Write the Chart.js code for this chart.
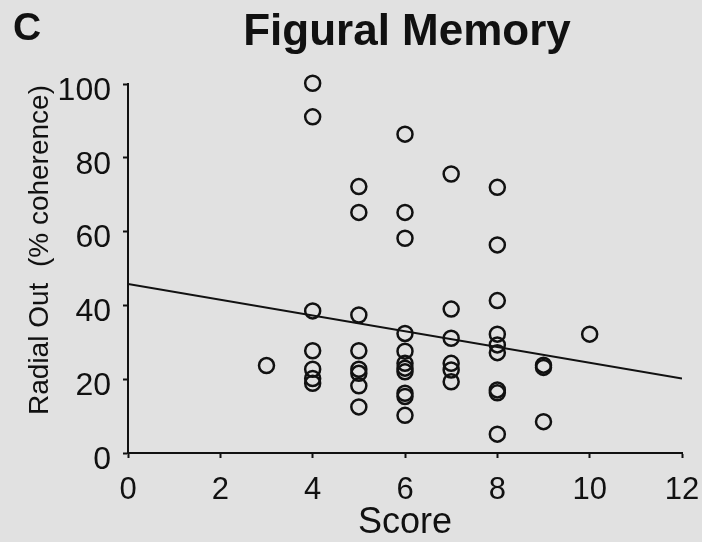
<!DOCTYPE html>
<html>
<head>
<meta charset="utf-8">
<script src="https://cdn.jsdelivr.net/npm/chart.js@4/dist/chart.umd.min.js"></script>
<style>
  html, body { margin: 0; padding: 0; background: #e1e1e1; }
  canvas { display: block; }
</style>
</head>
<body>
<canvas id="grafico" width="702" height="542"></canvas>
<script>
// datos
const puntajes = [3,
  4, 4, 4, 4, 4, 4, 4,
  5, 5, 5, 5, 5, 5, 5, 5,
  6, 6, 6, 6, 6, 6, 6, 6, 6, 6, 6,
  7, 7, 7, 7, 7, 7,
  8, 8, 8, 8, 8, 8, 8, 8, 8,
  9, 9, 9,
  10];
const coherencia = [23.7,
  100.2, 91.1, 38.5, 27.7, 22.7, 20.2, 18.9,
  72.2, 65.2, 37.4, 27.7, 22.7, 21.6, 18.2, 12.5,
  86.4, 65.2, 58.2, 32.4, 27.6, 24.3, 23.0, 22.0, 16.2, 15.3, 10.2,
  75.6, 39.0, 31.1, 24.3, 22.5, 19.3,
  72.0, 56.4, 41.3, 32.2, 29.3, 27.2, 17.1, 16.3, 5.1,
  23.8, 23.2, 8.5,
  32.2];
const rectaX = [0, 12];
const rectaY = [45.8, 20.2];
const ticksX = [0, 2, 4, 6, 8, 10, 12];
const ticksY = [0, 20, 40, 60, 80, 100];

const tinta = '#111111';
const fuente = "'Liberation Sans', Arial, sans-serif";

const textos = {
  id: 'textos',
  afterDraw(chart) {
    const c = chart.ctx;
    c.save();
    c.fillStyle = tinta;
    c.textBaseline = 'alphabetic';
    c.font = 'bold 39px ' + fuente;
    c.textAlign = 'left';
    c.fillText('C', 13, 40);
    c.font = 'bold 44px ' + fuente;
    c.textAlign = 'center';
    c.fillText('Figural Memory', 407, 45);
    c.font = '28px ' + fuente;
    c.translate(48, 250);
    c.rotate(-Math.PI / 2);
    c.fillText('Radial Out  (% coherence)', 0, 0);
    c.restore();
  }
};

const ctx = document.getElementById('grafico').getContext('2d');
const grafico = new Chart(ctx, {
  type: 'scatter',
  data: {
    datasets: [{
      label: 'datos',
      data: puntajes.map((x, i) => ({ x: x, y: coherencia[i] })),
      pointStyle: 'circle',
      pointRadius: 7.5,
      pointBorderWidth: 2.5,
      borderColor: tinta,
      backgroundColor: 'rgba(0,0,0,0)',
      clip: false,
      order: 1
    }, {
      type: 'line',
      label: 'recta',
      data: rectaX.map((x, i) => ({ x: x, y: rectaY[i] })),
      borderColor: tinta,
      borderWidth: 2,
      pointRadius: 0,
      fill: false,
      order: 2
    }]
  },
  options: {
    responsive: false,
    animation: false,
    devicePixelRatio: 1,
    layout: { padding: { left: 0, right: 20, top: 84, bottom: 0 } },
    plugins: {
      legend: { display: false },
      tooltip: { enabled: false }
    },
    scales: {
      x: {
        type: 'linear',
        min: 0,
        max: 12,
        afterFit(scale) {
          scale.height = 89;
          scale.paddingLeft = 0;
          scale.paddingRight = 0;
        },
        afterBuildTicks(scale) { scale.ticks = ticksX.map(v => ({ value: v })); },
        border: { display: true, color: tinta, width: 2 },
        grid: { drawOnChartArea: false, drawTicks: true, tickLength: 5, tickColor: tinta, tickWidth: 2 },
        ticks: { color: tinta, font: { family: fuente, size: 31 }, padding: 14, maxRotation: 0 },
        title: {
          display: true,
          text: 'Score',
          color: tinta,
          font: { family: fuente, size: 36, lineHeight: 1 },
          padding: { top: 0, bottom: 1 }
        }
      },
      y: {
        type: 'linear',
        min: 0,
        max: 100,
        afterFit(scale) {
          scale.width = 128;
          scale.paddingTop = 0;
          scale.paddingBottom = 0;
        },
        afterBuildTicks(scale) { scale.ticks = ticksY.map(v => ({ value: v })); },
        border: { display: true, color: tinta, width: 2 },
        grid: { drawOnChartArea: false, drawTicks: true, tickLength: 5, tickColor: tinta, tickWidth: 2 },
        ticks: { color: tinta, font: { family: fuente, size: 32 }, padding: 12, labelOffset: 7 }
      }
    }
  },
  plugins: [textos]
});
</script>
</body>
</html>
